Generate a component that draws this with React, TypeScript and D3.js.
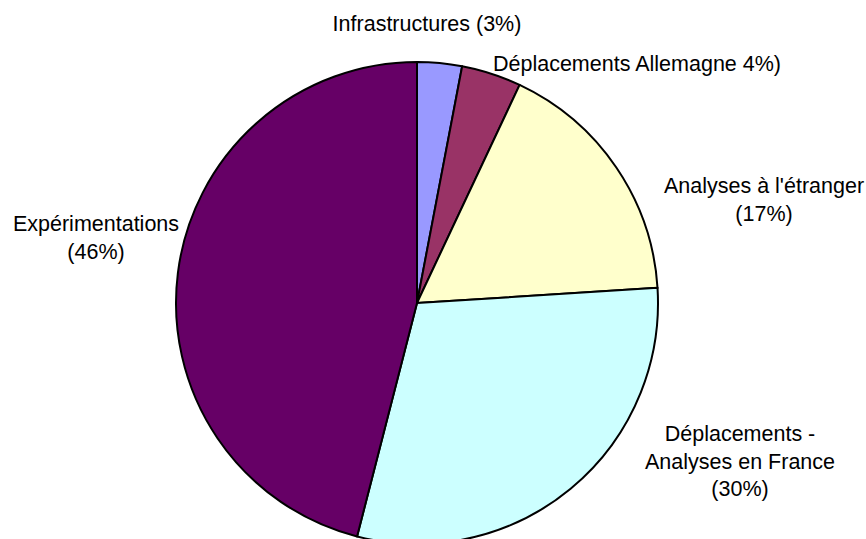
import React, { useEffect, useRef } from 'react';
import * as d3 from 'd3';

// slices, clockwise from 12 o'clock
const categories = [
  'Infrastructures',
  'Déplacements Allemagne',
  "Analyses à l'étranger",
  'Déplacements - Analyses en France',
  'Expérimentations',
];
const values = [3, 4, 17, 30, 46];
const colors = ['#9999FF', '#993366', '#FFFFCC', '#CCFFFF', '#660066'];
const labelLines = [
  ['Infrastructures (3%)'],
  ['Déplacements Allemagne 4%)'],
  ["Analyses à l'étranger", '(17%)'],
  ['Déplacements -', 'Analyses en France', '(30%)'],
  ['Expérimentations', '(46%)'],
];

const App = () => {
  const ref = useRef<SVGSVGElement | null>(null);

  useEffect(() => {
    document.body.style.margin = '0';
    if (!ref.current) return;
    const svg = d3.select(ref.current);
    svg.selectAll('*').remove();

    const width = 866;
    const height = 539;
    const cx = 417;
    const cy = 303;
    const radius = 241;

    const data = categories.map((name, i) => ({ name, value: values[i], color: colors[i], lines: labelLines[i] }));

    const pie = d3.pie<any>().sort(null).value(d => d.value);
    const arc = d3.arc<any>().innerRadius(0).outerRadius(radius);

    const g = svg.append('g').attr('transform', `translate(${cx},${cy})`);
    g.selectAll('path')
      .data(pie(data))
      .enter()
      .append('path')
      .attr('d', arc)
      .attr('fill', d => d.data.color)
      .attr('stroke', '#000')
      .attr('stroke-width', 2)
      .attr('stroke-linejoin', 'round');

    // label anchors (centre x, first baseline y), as placed in the original
    const labelAnchors = [
      [427, 31],
      [637, 71],
      [764, 193],
      [740, 441],
      [96, 231],
    ];
    const lineHeight = 27.5;

    data.forEach((d, i) => {
      const [x, y] = labelAnchors[i];
      const t = svg.append('text')
        .attr('text-anchor', 'middle')
        .style('font-family', 'Arial, "Liberation Sans", sans-serif')
        .style('font-size', '21.5px')
        .style('fill', '#000');
      d.lines.forEach((line, j) => {
        t.append('tspan').attr('x', x).attr('y', y + j * lineHeight).text(line);
      });
    });

    svg.attr('width', width).attr('height', height);
  }, []);

  return (
    <svg ref={ref} width={866} height={539} style={{ display: 'block', background: '#fff' }} />
  );
};

export default App;
